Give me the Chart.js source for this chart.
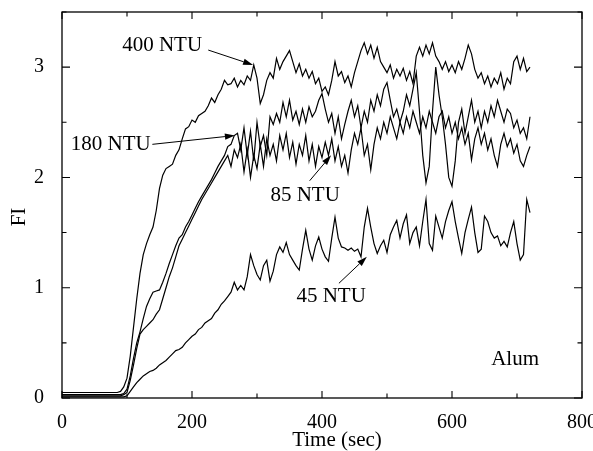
<!DOCTYPE html>
<html>
<head>
<meta charset="utf-8">
<script src="https://cdn.jsdelivr.net/npm/chart.js@4.4.0/dist/chart.umd.min.js"></script>
<style>
  html, body { margin: 0; padding: 0; background: #fff; }
  #wrap { width: 593px; height: 451px; }
</style>
</head>
<body>
<div id="wrap"><canvas id="fi"></canvas></div>
<script>
// sample grid: one reading every 5 s, starting at 0 s
const t0 = 0;
const dt = 5;

const ntu400 = [
  0.05,0.05,0.05,0.05,0.05,0.05,0.05,0.05,0.05,0.05,
  0.05,0.05,0.05,0.05,0.05,0.05,0.05,0.05,0.06,0.1,
  0.18,0.38,0.64,0.9,1.13,1.3,1.4,1.48,1.55,1.7,
  1.9,2.02,2.08,2.1,2.12,2.2,2.25,2.35,2.44,2.46,
  2.52,2.5,2.56,2.58,2.6,2.65,2.72,2.68,2.75,2.8,
  2.88,2.84,2.85,2.9,2.82,2.88,2.84,2.92,2.88,3.02,
  2.9,2.67,2.75,2.88,2.95,2.9,3.08,2.98,3.05,3.1,
  3.15,3.05,2.95,3.03,2.92,2.98,2.9,2.96,2.85,2.9,
  2.78,2.82,2.75,2.88,3.05,2.92,2.96,2.86,2.92,2.82,
  2.95,3.05,3.15,3.22,3.12,3.2,3.08,3.18,3.05,3.0,
  2.95,3.02,2.9,2.98,2.92,2.99,2.88,2.96,2.85,3.1,
  3.18,3.1,3.2,3.12,3.22,3.1,3.05,2.98,3.05,2.96,
  3.02,2.95,3.05,2.98,3.08,3.2,3.12,2.98,2.9,2.95,
  2.85,2.92,2.82,2.9,2.85,2.95,2.8,2.9,2.85,3.05,
  3.1,2.98,3.08,2.96,3.0
];
const ntu180 = [
  0.03,0.03,0.03,0.03,0.03,0.03,0.03,0.03,0.03,0.03,
  0.03,0.03,0.03,0.03,0.03,0.03,0.03,0.03,0.03,0.04,
  0.08,0.2,0.36,0.5,0.6,0.72,0.83,0.9,0.96,0.97,
  0.98,1.05,1.13,1.22,1.3,1.38,1.45,1.48,1.55,1.6,
  1.66,1.72,1.78,1.83,1.88,1.93,1.98,2.04,2.1,2.15,
  2.2,2.28,2.3,2.38,2.4,2.25,2.45,2.2,2.42,2.15,
  2.5,2.28,2.38,2.2,2.55,2.48,2.58,2.5,2.68,2.55,
  2.7,2.52,2.6,2.48,2.62,2.5,2.64,2.55,2.6,2.7,
  2.76,2.62,2.5,2.58,2.4,2.55,2.35,2.48,2.6,2.7,
  2.55,2.65,2.45,2.6,2.5,2.7,2.6,2.75,2.65,2.8,
  2.86,2.7,2.55,2.62,2.5,2.6,2.75,2.65,2.8,2.95,
  2.6,2.2,1.95,2.1,2.6,3.0,2.75,2.55,2.3,2.0,
  1.92,2.15,2.5,2.62,2.4,2.55,2.7,2.5,2.6,2.45,
  2.6,2.5,2.65,2.55,2.7,2.6,2.5,2.62,2.58,2.45,
  2.52,2.4,2.45,2.35,2.55
];
const ntu85 = [
  0.02,0.02,0.02,0.02,0.02,0.02,0.02,0.02,0.02,0.02,
  0.02,0.02,0.02,0.02,0.02,0.02,0.02,0.02,0.02,0.03,
  0.05,0.16,0.3,0.45,0.58,0.62,0.65,0.68,0.71,0.76,
  0.8,0.9,1.0,1.1,1.18,1.28,1.38,1.44,1.5,1.56,
  1.62,1.68,1.74,1.8,1.85,1.9,1.95,2.0,2.05,2.1,
  2.15,2.2,2.1,2.25,2.18,2.3,2.05,2.25,2.0,2.2,
  2.08,2.3,2.1,2.35,2.2,2.3,2.15,2.38,2.25,2.4,
  2.18,2.32,2.12,2.3,2.2,2.38,2.15,2.3,2.1,2.28,
  2.18,2.32,2.2,2.35,2.15,2.28,2.1,2.2,2.04,2.25,
  2.4,2.3,2.45,2.2,2.3,2.07,2.3,2.45,2.35,2.5,
  2.4,2.55,2.45,2.35,2.5,2.4,2.55,2.45,2.6,2.5,
  2.4,2.55,2.45,2.6,2.5,2.4,2.55,2.6,2.45,2.55,
  2.4,2.5,2.35,2.45,2.3,2.4,2.16,2.35,2.45,2.3,
  2.4,2.25,2.35,2.2,2.1,2.3,2.4,2.28,2.35,2.22,
  2.3,2.15,2.1,2.2,2.28
];
const ntu45 = [
  0.01,0.01,0.01,0.01,0.01,0.01,0.01,0.01,0.01,0.01,
  0.01,0.01,0.01,0.01,0.01,0.01,0.01,0.01,0.01,0.01,
  0.02,0.06,0.1,0.14,0.17,0.2,0.22,0.24,0.25,0.27,
  0.3,0.32,0.34,0.37,0.4,0.43,0.44,0.46,0.5,0.53,
  0.56,0.58,0.62,0.64,0.68,0.7,0.72,0.77,0.8,0.85,
  0.88,0.92,0.96,1.05,0.98,1.02,0.98,1.1,1.3,1.2,
  1.12,1.07,1.2,1.25,1.06,1.15,1.3,1.37,1.32,1.41,
  1.3,1.25,1.2,1.16,1.35,1.52,1.35,1.25,1.38,1.46,
  1.35,1.28,1.24,1.45,1.64,1.45,1.37,1.36,1.34,1.36,
  1.33,1.35,1.28,1.55,1.72,1.55,1.4,1.31,1.38,1.43,
  1.32,1.48,1.55,1.61,1.45,1.58,1.66,1.4,1.5,1.55,
  1.38,1.6,1.8,1.4,1.34,1.65,1.55,1.45,1.6,1.7,
  1.78,1.6,1.45,1.31,1.5,1.62,1.73,1.5,1.32,1.35,
  1.65,1.6,1.5,1.45,1.47,1.38,1.42,1.37,1.5,1.6,
  1.4,1.25,1.3,1.8,1.68
];

const xTicks = [0, 200, 400, 600, 800];
const yTicks = [0, 1, 2, 3];

// labels with arrows, in data units (sec, FI)
const notes = [
  { text: '400 NTU', at: [154, 3.2],  from: [225, 3.155], to: [294, 3.02] },
  { text: '180 NTU', at: [75, 2.30],  from: [139, 2.30],  to: [266, 2.38] },
  { text: '85 NTU',  at: [374, 1.84], from: [381, 1.97],  to: [414, 2.2] },
  { text: '45 NTU',  at: [414, 0.925], from: [426, 1.04], to: [469, 1.28] },
  { text: 'Alum',    at: [697, 0.345] }
];

const serif = "'Liberation Serif', 'Times New Roman', serif";

const pts = arr => arr.map((v, i) => ({ x: t0 + i * dt, y: v }));
const lijn = (label, arr) => ({
  label, data: pts(arr),
  borderColor: '#000', borderWidth: 1.2,
  pointRadius: 0, tension: 0, fill: false
});

function pijl(ctx, x1, y1, x2, y2) {
  const a = Math.atan2(y2 - y1, x2 - x1);
  const len = 10, half = 3.2;
  const bx = x2 - len * Math.cos(a), by = y2 - len * Math.sin(a);
  ctx.beginPath();
  ctx.moveTo(x1, y1);
  ctx.lineTo(bx, by);
  ctx.stroke();
  ctx.beginPath();
  ctx.moveTo(x2, y2);
  ctx.lineTo(bx + half * Math.sin(a), by - half * Math.cos(a));
  ctx.lineTo(bx - half * Math.sin(a), by + half * Math.cos(a));
  ctx.closePath();
  ctx.fill();
}

const kaderPlugin = {
  id: 'kader',
  afterDatasetsDraw(chart) {
    const { ctx, chartArea: ca, scales: { x, y } } = chart;
    ctx.save();
    ctx.strokeStyle = '#000';
    ctx.fillStyle = '#000';
    ctx.lineWidth = 1.3;
    ctx.strokeRect(ca.left, ca.top, ca.right - ca.left, ca.bottom - ca.top);

    ctx.lineWidth = 1.1;
    ctx.beginPath();
    for (let v = x.min; v <= x.max; v += 100) {
      const px = x.getPixelForValue(v);
      const l = v % 200 === 0 ? 7 : 4.5;
      ctx.moveTo(px, ca.bottom); ctx.lineTo(px, ca.bottom - l);
      ctx.moveTo(px, ca.top); ctx.lineTo(px, ca.top + l);
    }
    for (let v = 0; v <= y.max; v += 0.5) {
      const py = y.getPixelForValue(v);
      const l = v % 1 === 0 ? 8 : 4.5;
      ctx.moveTo(ca.left, py); ctx.lineTo(ca.left + l, py);
      ctx.moveTo(ca.right, py); ctx.lineTo(ca.right - l, py);
    }
    ctx.stroke();

    ctx.font = '21px ' + serif;
    ctx.textAlign = 'center';
    ctx.textBaseline = 'middle';
    ctx.lineWidth = 1;
    notes.forEach(n => {
      ctx.fillText(n.text, x.getPixelForValue(n.at[0]), y.getPixelForValue(n.at[1]));
      if (n.from) {
        pijl(ctx, x.getPixelForValue(n.from[0]), y.getPixelForValue(n.from[1]),
                  x.getPixelForValue(n.to[0]), y.getPixelForValue(n.to[1]));
      }
    });

    // axis titles
    ctx.fillText('Time (sec)', 337, 440);
    ctx.translate(19, 217);
    ctx.rotate(-Math.PI / 2);
    ctx.fillText('FI', 0, 0);
    ctx.restore();
  }
};

new Chart(document.getElementById('fi'), {
  type: 'line',
  data: {
    datasets: [
      lijn('400 NTU', ntu400),
      lijn('180 NTU', ntu180),
      lijn('85 NTU', ntu85),
      lijn('45 NTU', ntu45)
    ]
  },
  options: {
    responsive: true,
    maintainAspectRatio: false,
    animation: false,
    layout: { padding: { top: 12, right: 11, left: 0, bottom: 0 } },
    plugins: { legend: { display: false }, tooltip: { enabled: false } },
    scales: {
      x: {
        type: 'linear', min: 0, max: 800,
        afterBuildTicks: s => { s.ticks = xTicks.map(v => ({ value: v })); },
        afterFit: s => { s.height = 53; s.paddingLeft = 0; s.paddingRight = 0; },
        grid: { display: false },
        border: { display: false },
        ticks: { color: '#000', padding: 5, maxRotation: 0, font: { family: serif, size: 20 } }
      },
      y: {
        type: 'linear', min: 0, max: 3.5,
        afterBuildTicks: s => { s.ticks = yTicks.map(v => ({ value: v })); },
        afterFit: s => { s.width = 62; s.paddingTop = 0; s.paddingBottom = 0; },
        grid: { display: false },
        border: { display: false },
        ticks: { color: '#000', padding: 10, font: { family: serif, size: 20 } }
      }
    }
  },
  plugins: [kaderPlugin]
});
</script>
</body>
</html>
